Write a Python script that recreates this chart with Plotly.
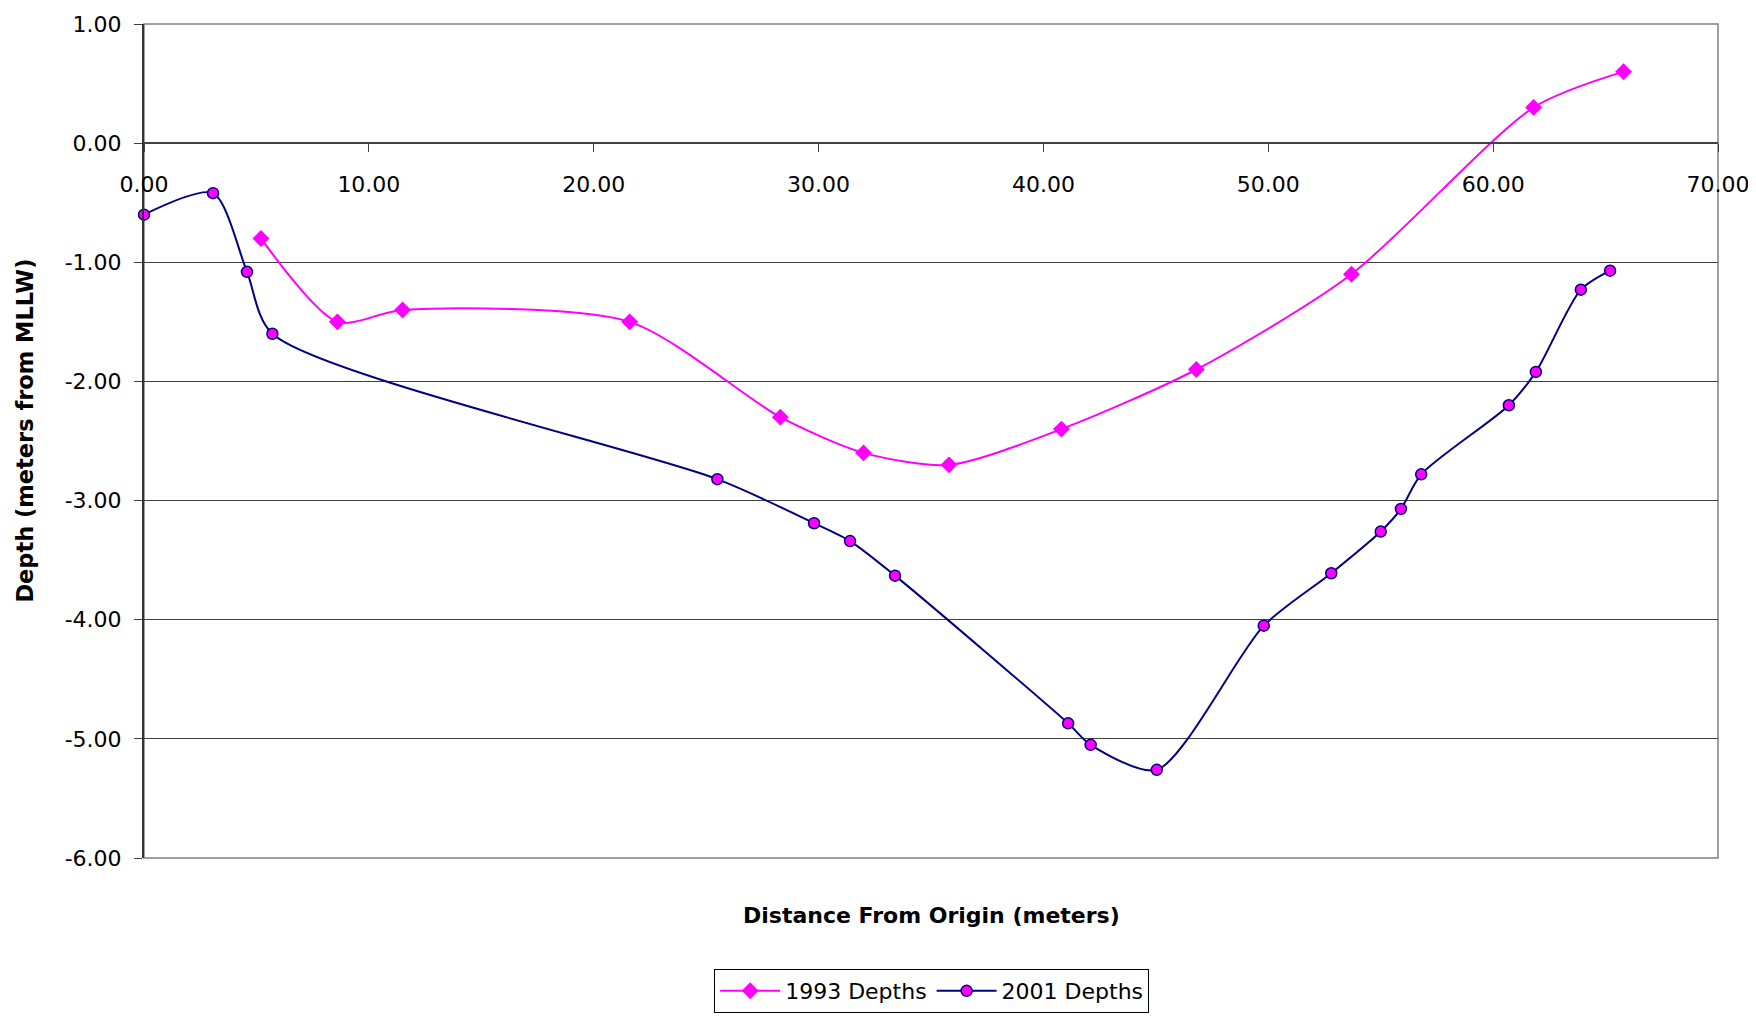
import plotly.graph_objects as go

# 1993 survey
x_1993 = [5.2, 8.6, 11.5, 21.6, 28.3, 32.0, 35.8, 40.8, 46.8, 53.7, 61.8, 65.8]
y_1993 = [-0.8, -1.5, -1.4, -1.5, -2.3, -2.6, -2.7, -2.4, -1.9, -1.1, 0.3, 0.6]

# 2001 survey
x_2001 = [0.0, 3.07, 4.58, 5.71, 25.5, 29.8, 31.4, 33.4, 41.1, 42.1, 45.04,
          49.8, 52.8, 55.0, 55.9, 56.8, 60.7, 61.9, 63.9, 65.2]
y_2001 = [-0.6, -0.42, -1.08, -1.6, -2.82, -3.19, -3.34, -3.63, -4.87, -5.05, -5.26,
          -4.05, -3.61, -3.26, -3.07, -2.78, -2.2, -1.92, -1.23, -1.07]

x_ticks = [0, 10, 20, 30, 40, 50, 60, 70]
y_ticks = [1, 0, -1, -2, -3, -4, -5, -6]

FONT = "DejaVu Sans"

fig = go.Figure()
fig.add_trace(go.Scatter(
    x=x_1993, y=y_1993, name="1993 Depths", mode="lines+markers",
    line=dict(color="#FF00FF", width=2, shape="spline", smoothing=0.75),
    marker=dict(symbol="diamond", size=13, color="#FF00FF"),
    cliponaxis=False,
))
fig.add_trace(go.Scatter(
    x=x_2001, y=y_2001, name="2001 Depths", mode="lines+markers",
    line=dict(color="#000080", width=2, shape="spline", smoothing=0.75),
    marker=dict(symbol="circle", size=11, color="#FF00FF",
                line=dict(color="#000080", width=1.5)),
    cliponaxis=False,
))

# page body has an 8px margin, so offsets below account for it
fig.update_layout(
    width=1756, height=1017,
    margin=dict(l=136, r=46, t=16, b=167, autoexpand=False),
    paper_bgcolor="white", plot_bgcolor="white",
    font=dict(family=FONT, size=22, color="black"),
    showlegend=True,
    legend=dict(
        orientation="h", xref="container", yref="container",
        x=0.526, xanchor="center", y=1 - 961 / 1017, yanchor="top",
        bordercolor="black", borderwidth=1, bgcolor="white",
        font=dict(family=FONT, size=22), itemwidth=60,
    ),
    xaxis=dict(
        range=[0, 70], tickvals=x_ticks,
        ticktext=[f"{v:.2f}" for v in x_ticks],
        anchor="free", position=6/7,
        showline=True, linecolor="#404040", linewidth=1.5,
        ticks="outside", ticklen=8, tickcolor="#404040",
        showgrid=False, zeroline=False, automargin=False,
        ticklabelstandoff=14,
        tickfont=dict(family=FONT, size=22),
    ),
    yaxis=dict(
        range=[-6, 1], tickvals=y_ticks,
        ticktext=[f"{v:.2f}" for v in y_ticks],
        showline=True, linecolor="#333333", linewidth=2,
        ticks="outside", ticklen=8, tickcolor="#404040",
        showgrid=True, gridcolor="#404040", gridwidth=1,
        zeroline=False, automargin=False,
        ticklabelstandoff=8,
        tickfont=dict(family=FONT, size=22),
    ),
    shapes=[dict(type="rect", xref="paper", yref="paper", x0=0, x1=1, y0=0, y1=1,
                 line=dict(color="#808080", width=1.5), layer="below")],
    annotations=[
        dict(text="<b>Distance From Origin (meters)</b>",
             xref="paper", yref="paper", x=0.5, y=(858 - 915) / 834,
             xanchor="center", yanchor="middle", showarrow=False,
             font=dict(family=FONT, size=22)),
        dict(text="<b>Depth (meters from MLLW)</b>", textangle=-90,
             xref="paper", yref="paper", x=(24.6 - 144) / 1574, y=0.512,
             xanchor="center", yanchor="middle", showarrow=False,
             font=dict(family=FONT, size=22.5)),
    ],
)

fig.write_html("out.html")
